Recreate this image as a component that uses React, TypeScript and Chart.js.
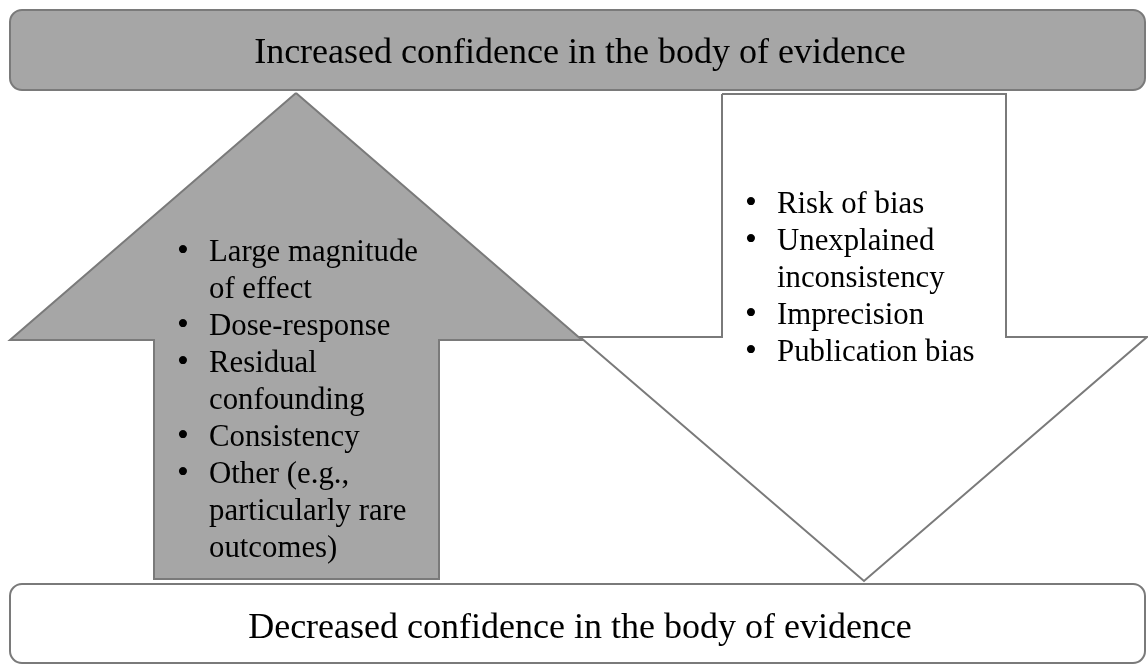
import React, { useEffect, useRef } from "react";
import { Chart, registerables } from "chart.js";

Chart.register(...registerables);

// Shape outlines (diagram coordinates: x 0..1148, y 0..665 top-down)
const upArrowX = [296, 582, 439, 439, 154, 154, 10, 296];
const upArrowY = [93, 340, 340, 579, 579, 340, 340, 93];
const downArrowX = [722, 1006, 1006, 1147, 864, 580, 722, 722];
const downArrowY = [94, 94, 337, 337, 581, 337, 337, 94];

const boxX = [10, 1145];
const topBoxY = [10, 90];
const bottomBoxY = [584, 663];

// Texts
const topTitle = "Increased confidence in the body of evidence";
const bottomTitle = "Decreased confidence in the body of evidence";
const topTitleBaseline = 63;
const bottomTitleBaseline = 638;
const titleCenterX = 580;

const upItems = [
  ["Large magnitude", "of effect"],
  ["Dose-response"],
  ["Residual", "confounding"],
  ["Consistency"],
  ["Other (e.g.,", "particularly rare", "outcomes)"],
];
const upBulletX = 177;
const upTextX = 209;
const upFirstBaseline = 261;

const downItems = [
  ["Risk of bias"],
  ["Unexplained", "inconsistency"],
  ["Imprecision"],
  ["Publication bias"],
];
const downBulletX = 745;
const downTextX = 777;
const downFirstBaseline = 213;

const lineStep = 37;

const GREY = "#a6a6a6";
const STROKE = "#7a7a7a";
const SERIF = '"Liberation Serif", "Times New Roman", serif';

function toPoints(xs: number[], ys: number[]) {
  return xs.map((x, i) => ({ x, y: ys[i] }));
}

const polyFillPlugin = {
  id: "polyFill",
  beforeDatasetDraw(chart: any, args: any) {
    const ds = chart.data.datasets[args.index];
    if (!ds.polyFill) return;
    const meta = chart.getDatasetMeta(args.index);
    const pts = meta.data;
    if (!pts.length) return;
    const ctx = chart.ctx;
    ctx.save();
    ctx.beginPath();
    ctx.moveTo(pts[0].x, pts[0].y);
    for (let i = 1; i < pts.length; i++) ctx.lineTo(pts[i].x, pts[i].y);
    ctx.closePath();
    ctx.fillStyle = ds.polyFill;
    ctx.fill();
    ctx.restore();
  },
};

const boxesAndTextPlugin = {
  id: "boxesAndText",
  beforeDatasetsDraw(chart: any) {
    const ctx = chart.ctx;
    const xs = chart.scales.x;
    const ys = chart.scales.y;
    const drawBox = (yr: number[], fill: string) => {
      const x0 = xs.getPixelForValue(boxX[0]);
      const x1 = xs.getPixelForValue(boxX[1]);
      const y0 = ys.getPixelForValue(yr[0]);
      const y1 = ys.getPixelForValue(yr[1]);
      ctx.save();
      ctx.beginPath();
      ctx.roundRect(x0, Math.min(y0, y1), x1 - x0, Math.abs(y1 - y0), 12);
      ctx.fillStyle = fill;
      ctx.fill();
      ctx.lineWidth = 2;
      ctx.strokeStyle = STROKE;
      ctx.stroke();
      ctx.restore();
    };
    drawBox(topBoxY, GREY);
    drawBox(bottomBoxY, "#ffffff");
  },
  afterDatasetsDraw(chart: any) {
    const ctx = chart.ctx;
    const xs = chart.scales.x;
    const ys = chart.scales.y;
    ctx.save();
    ctx.fillStyle = "#000000";
    ctx.textBaseline = "alphabetic";
    ctx.textAlign = "center";
    ctx.font = `36px ${SERIF}`;
    ctx.fillText(topTitle, xs.getPixelForValue(titleCenterX), ys.getPixelForValue(topTitleBaseline));
    ctx.fillText(bottomTitle, xs.getPixelForValue(titleCenterX), ys.getPixelForValue(bottomTitleBaseline));

    ctx.textAlign = "left";
    const drawList = (items: string[][], bx: number, tx: number, firstBase: number) => {
      let line = 0;
      items.forEach((item) => {
        item.forEach((txt, j) => {
          const y = ys.getPixelForValue(firstBase + line * lineStep);
          if (j === 0) {
            ctx.font = `34px ${SERIF}`;
            ctx.fillText("\u2022", xs.getPixelForValue(bx), y);
          }
          ctx.font = `30.8px ${SERIF}`;
          ctx.fillText(txt, xs.getPixelForValue(tx), y);
          line++;
        });
      });
    };
    drawList(upItems, upBulletX, upTextX, upFirstBaseline);
    drawList(downItems, downBulletX, downTextX, downFirstBaseline);
    ctx.restore();
  },
};

export default function App() {
  const canvasRef = useRef<HTMLCanvasElement | null>(null);

  useEffect(() => {
    if (!canvasRef.current) return;
    const chart = new Chart(canvasRef.current, {
      type: "scatter",
      data: {
        datasets: [
          {
            label: "Up arrow",
            data: toPoints(upArrowX, upArrowY),
            showLine: true,
            borderColor: STROKE,
            borderWidth: 2,
            pointRadius: 0,
            tension: 0,
            fill: false,
            borderJoinStyle: "miter",
            polyFill: GREY,
          } as any,
          {
            label: "Down arrow",
            data: toPoints(downArrowX, downArrowY),
            showLine: true,
            borderColor: STROKE,
            borderWidth: 2,
            pointRadius: 0,
            tension: 0,
            fill: false,
            borderJoinStyle: "miter",
            polyFill: "#ffffff",
          } as any,
        ],
      },
      options: {
        animation: false,
        responsive: true,
        maintainAspectRatio: false,
        layout: { padding: 0 },
        events: [],
        plugins: {
          legend: { display: false },
          tooltip: { enabled: false },
          title: { display: false },
        },
        scales: {
          x: { type: "linear", min: 0, max: 1148, display: false },
          y: { type: "linear", min: 0, max: 665, reverse: true, display: false },
        },
      },
      plugins: [polyFillPlugin, boxesAndTextPlugin],
    });
    return () => chart.destroy();
  }, []);

  return (
    <div style={{ position: "absolute", left: 0, top: 0, width: 1148, height: 665, background: "#ffffff" }}>
      <canvas ref={canvasRef} />
    </div>
  );
}
